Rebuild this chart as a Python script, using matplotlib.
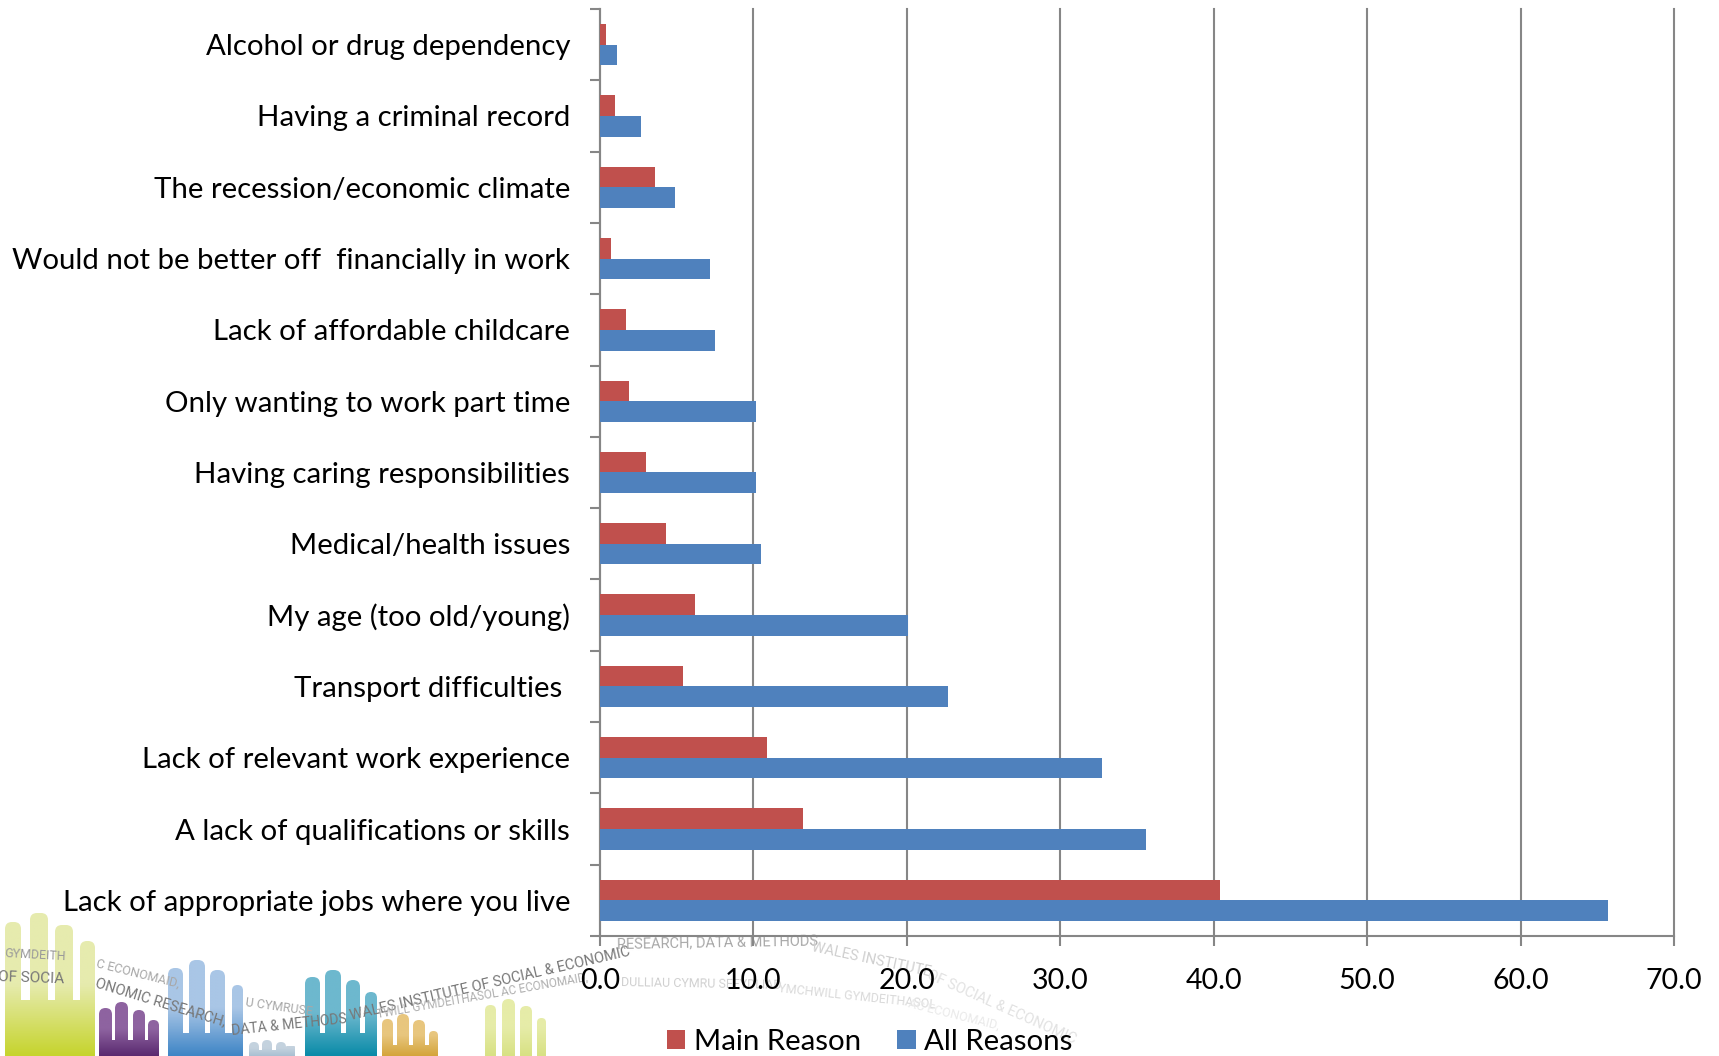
"""
Reasons for difficulty finding work: horizontal bars, Main Reason vs All Reasons
"""
import numpy as np
import matplotlib
matplotlib.use("Agg")
import matplotlib.pyplot as plt
from matplotlib.colors import LinearSegmentedColormap
from matplotlib.patches import FancyBboxPatch

categories = [
    "Alcohol or drug dependency",
    "Having a criminal record",
    "The recession/economic climate",
    "Would not be better off  financially in work",
    "Lack of affordable childcare",
    "Only wanting to work part time",
    "Having caring responsibilities",
    "Medical/health issues",
    "My age (too old/young)",
    "Transport difficulties ",
    "Lack of relevant work experience",
    "A lack of qualifications or skills",
    "Lack of appropriate jobs where you live",
]
main_reason = [0.4, 1.0, 3.6, 0.7, 1.7, 1.9, 3.0, 4.3, 6.2, 5.4, 10.9, 13.2, 40.4]
all_reasons = [1.1, 2.7, 4.9, 7.2, 7.5, 10.2, 10.2, 10.5, 20.1, 22.7, 32.7, 35.6, 65.7]
x_ticks = [0, 10, 20, 30, 40, 50, 60, 70]

W, H = 1719, 1056
RED = "#C0504D"
BLUE = "#4F81BD"
GREY = "#868686"
FONT = "Lato"

# logo in the bottom left corner: (light, dark, palm top, fingers as x0, x1, top)
hands = [
    ("#E6EBAE", "#C6D42E", 1000, [(5, 21, 922), (30, 48, 913), (55, 73, 925), (80, 95, 941)]),
    ("#8E63A0", "#5A2A70", 1040, [(99, 112, 1008), (115, 128, 1002), (133, 145, 1010), (148, 159, 1020)]),
    ("#A9C6E6", "#3F85C6", 1033, [(168, 183, 968), (189, 205, 960), (210, 225, 970), (232, 243, 985)]),
    ("#C4D2DE", "#A9C0D2", 1050, [(249, 259, 1042), (262, 272, 1040), (276, 286, 1042), (286, 295, 1046)]),
    ("#6DB8CE", "#0A8BA8", 1033, [(305, 320, 977), (325, 341, 970), (346, 360, 980), (365, 377, 992)]),
    ("#E8C67E", "#D4A53C", 1045, [(382, 393, 1019), (397, 409, 1014), (413, 425, 1020), (429, 438, 1031)]),
    ("#E6ECA8", "#D8E184", 1056, [(485, 496, 1005), (502, 515, 999), (520, 532, 1006), (537, 546, 1018)]),
]
# curved strap line, cut into straight pieces: (text, x, y, angle, grey, size)
strap = [
    ("GYMDEITH", 4, 954, -3, "#9A9A9A", 9),
    ("OF SOCIA", -2, 977, -2, "#777777", 11),
    ("C ECONOMAID,", 96, 963, -14, "#A8A8A8", 9),
    ("ONOMIC RESEARCH,", 96, 983, -17, "#777777", 10.5),
    ("U CYMRUSE", 245, 1003, -8, "#A8A8A8", 9),
    ("DATA & METHODS", 232, 1031, 6, "#777777", 10),
    ("WALES INSTITUTE OF SOCIAL & ECONOMIC", 350, 1016, 13, "#777777", 10.5),
    ("TWILL GYMDEITHASOL AC ECONOMAID,", 377, 1014, 10, "#B0B0B0", 8.5),
    ("RESEARCH, DATA & METHODS", 617, 944, 1, "#A8A8A8", 10.5),
    ("DULLIAU CYMRU SEFYDLIAD", 621, 983, -1, "#D0D0D0", 9),
    ("YMCHWILL GYMDEITHASOL", 778, 989, -6, "#DADADA", 9),
    ("AC ECONOMAID,", 908, 1003, -14, "#EAEAEA", 9),
    ("WALES INSTITUTE", 812, 947, -12, "#CFCFCF", 10.5),
    ("OF SOCIAL & ECONOMIC", 928, 974, -24, "#E2E2E2", 10.5),
]

plt.rcParams["font.family"] = [FONT, "DejaVu Sans"]
fig = plt.figure(figsize=(W / 100, H / 100), dpi=100, facecolor="white")

# background layer in pixel coordinates for the logo
bg = fig.add_axes([0, 0, 1, 1], zorder=0)
for light, dark, palm, fingers in hands:
    cmap = LinearSegmentedColormap.from_list("hand", [light, light, dark])
    grad = np.linspace(0, 1, 64).reshape(-1, 1)
    top = min(f[2] for f in fingers)
    boxes = [(f[0], f[2], f[1] - f[0], H + 10 - f[2]) for f in fingers]
    boxes.append((fingers[0][0], palm, fingers[-1][1] - fingers[0][0], H + 10 - palm))
    for x0, y0, w, h in boxes:
        r = min(w / 2, 7) if h > 20 else 1
        patch = FancyBboxPatch((x0 + r, y0 + r), w - 2 * r, h - 2 * r,
                               boxstyle=f"round,pad={r},rounding_size={r}",
                               fc="none", ec="none", transform=bg.transData)
        bg.add_patch(patch)
        im = bg.imshow(grad, cmap=cmap, extent=(x0 - 2, x0 + w + 2, H, top),
                       aspect="auto", zorder=1)
        im.set_clip_path(patch)
for txt, x, y, rot, col, size in strap:
    bg.text(x, y, txt, color=col, fontsize=size, rotation=rot, rotation_mode="anchor",
            family="Roboto", ha="left", va="center", zorder=2, clip_on=True)
bg.set_xlim(0, W)
bg.set_ylim(H, 0)
bg.axis("off")

# chart axes
ax = fig.add_axes([600 / W, 1 - 936 / H, (1674 - 600) / W, (936 - 9) / H], zorder=1)
ax.patch.set_alpha(0)
y = np.arange(len(categories))
bar_h = 0.29
ax.barh(y - bar_h / 2, main_reason, bar_h, color=RED, label="Main Reason", zorder=3)
ax.barh(y + bar_h / 2, all_reasons, bar_h, color=BLUE, label="All Reasons", zorder=3)

ax.set_xlim(0, 70)
ax.set_ylim(len(categories) - 0.5, -0.5)
ax.set_xticks(x_ticks)
ax.set_xticklabels([f"{v:.1f}" for v in x_ticks], fontsize=20.5)
ax.set_yticks(y)
ax.set_yticklabels(categories, fontsize=21.2)
ax.set_yticks(np.arange(len(categories) + 1) - 0.5, minor=True)
ax.tick_params(axis="y", which="major", length=0, pad=21.5)
ax.tick_params(axis="y", which="minor", length=7.5, width=1.5, color=GREY)
ax.tick_params(axis="x", length=7.5, width=1.5, color=GREY, pad=15.5)
ax.grid(axis="x", color=GREY, lw=1.5, zorder=1)
ax.set_axisbelow(True)
for side in ["top", "right"]:
    ax.spines[side].set_visible(False)
for side in ["left", "bottom"]:
    ax.spines[side].set_color(GREY)
    ax.spines[side].set_linewidth(1.5)
for line in ax.get_xgridlines():
    line.set_clip_on(False)

ax.legend(loc="center left", bbox_to_anchor=(667 / W, 1 - 1042 / H),
          bbox_transform=fig.transFigure, ncol=2, frameon=False, fontsize=21.2,
          handlelength=0.62, handleheight=0.62, handletextpad=0.28,
          columnspacing=1.25, borderpad=0, borderaxespad=0)

fig.savefig("out.png", dpi=100)
plt.close(fig)
